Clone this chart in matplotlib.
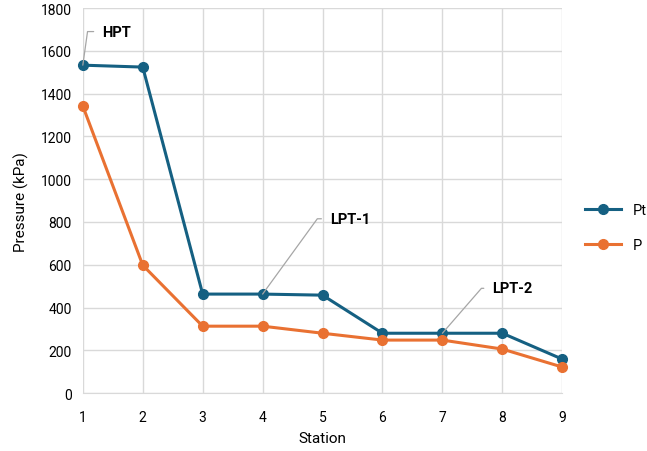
import matplotlib
matplotlib.use('Agg')
import matplotlib.pyplot as plt

plt.rcParams['font.family'] = ['Roboto', 'DejaVu Sans']

# Datos
stations = [1, 2, 3, 4, 5, 6, 7, 8, 9]
pt_values = [1533, 1524, 463, 463, 458, 280, 280, 280, 159]
p_values = [1342, 598, 313, 313, 280, 248, 248, 206, 122]

labels = ['HPT', 'LPT-1', 'LPT-2']
label_station = [1, 4, 7]
label_text_pos = [(1.32, 1690), (5.12, 815), (7.83, 490)]
label_angle = [82, 54, 49]

fig = plt.figure(figsize=(6.47, 4.52), dpi=100)
ax = fig.add_axes([0.128, 0.128, 0.741, 0.852])

ax.plot(stations, pt_values, color='#156082', linewidth=2.2, marker='o', markersize=7,
        label='Pt', zorder=3, clip_on=False)
ax.plot(stations, p_values, color='#E97132', linewidth=2.2, marker='o', markersize=7,
        label='P', zorder=3, clip_on=False)

for name, st, pos, ang in zip(labels, label_station, label_text_pos, label_angle):
    ax.annotate(name, xy=(st, pt_values[st - 1]), xytext=pos,
                fontsize=10.5, fontweight='bold', ha='left', va='center',
                arrowprops=dict(arrowstyle='-', color='#a6a6a6', lw=0.9,
                                relpos=(0, 0.5), shrinkA=4, shrinkB=0,
                                connectionstyle='angle,angleA=0,angleB=%d,rad=0' % ang))

ax.set_xlim(1, 9)
ax.set_ylim(0, 1800)
ax.set_xticks(stations)
ax.set_yticks(range(0, 1801, 200))
ax.grid(True, color='#d9d9d9', linewidth=1)
ax.set_axisbelow(True)
for s in ['top', 'right', 'left']:
    ax.spines[s].set_visible(False)
ax.spines['bottom'].set_color('#d9d9d9')
ax.tick_params(axis='y', length=0, labelsize=10, pad=8)
ax.tick_params(axis='x', length=0, labelsize=10, pad=12)
ax.set_xlabel('Station', fontsize=11, labelpad=5)
ax.set_ylabel('Pressure (kPa)', fontsize=11, labelpad=8)

ax.legend(loc='center left', bbox_to_anchor=(1.02, 0.43), frameon=False, fontsize=10.5,
          handlelength=2.5, labelspacing=1.4)

plt.savefig('out.png', dpi=100)
